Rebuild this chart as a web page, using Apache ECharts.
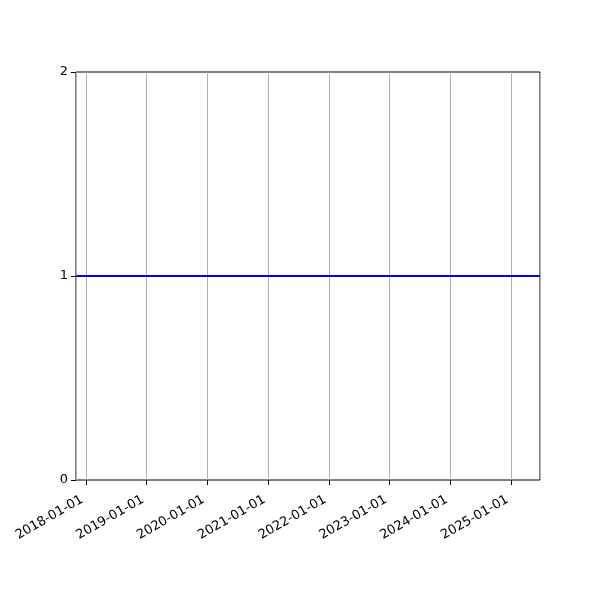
<!DOCTYPE html>
<html>
<head>
<meta charset="utf-8">
<script src="https://cdn.jsdelivr.net/npm/echarts@6/dist/echarts.min.js"></script>
<style>html,body{margin:0;padding:0;background:#fff}#c{width:600px;height:600px}</style>
</head>
<body>
<div id="c"></div>
<script>
const dates = ['2017-11-03', '2025-06-23'];
const values = [1, 1];
const yTicks = [0, 1, 2];
const xMin = '2017-11-03';
const xMax = '2025-06-23';

const chart = echarts.init(document.getElementById('c'), null, {renderer: 'canvas'});
const YEAR = 365 * 86400000;
chart.setOption({
  animation: false,
  grid: {left: 76, right: 60, top: 72, bottom: 120, show: true, borderColor: '#000', borderWidth: 1, backgroundColor: 'transparent'},
  xAxis: {
    type: 'time',
    min: xMin,
    max: xMax,
    minInterval: YEAR,
    maxInterval: 366 * 86400000,
    axisLine: {show: false, onZero: false},
    axisTick: {show: true, length: 5, lineStyle: {color: '#000', width: 1}},
    axisLabel: {
      rotate: 30,
      fontFamily: 'DejaVu Sans',
      fontSize: 13,
      color: '#000',
      margin: 9,
      align: 'right',
      verticalAlign: 'top',
      hideOverlap: false,
      formatter: function (v) { return '{a|' + echarts.time.format(v, '{yyyy}-{MM}-{dd}', false) + '}'; },
      rich: {a: {fontFamily: 'DejaVu Sans', fontSize: 13, color: '#000', padding: [0, 8, 0, 0]}}
    },
    splitLine: {show: true, lineStyle: {color: '#b0b0b0', width: 1}},
    minorTick: {show: false}
  },
  yAxis: {
    type: 'value',
    min: yTicks[0],
    max: yTicks[yTicks.length - 1],
    interval: 1,
    axisLine: {show: false},
    axisTick: {show: true, length: 5, lineStyle: {color: '#000', width: 1}},
    axisLabel: {fontFamily: 'DejaVu Sans', fontSize: 13, color: '#000', margin: 8},
    splitLine: {show: false}
  },
  series: [{
    type: 'line',
    data: dates.map((d, i) => [d, values[i]]),
    showSymbol: false,
    symbol: 'none',
    lineStyle: {color: '#0000ff', width: 2}
  }]
});
</script>
</body>
</html>
